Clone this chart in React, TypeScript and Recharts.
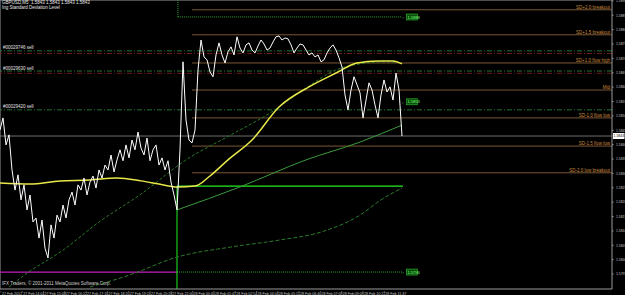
import React from "react";
import {
  ComposedChart,
  Line,
  XAxis,
  YAxis,
  ReferenceLine,
  ReferenceDot,
} from "recharts";

// M5 closes, one every 3rd bar slot (bar index = i)
const closes = [
  1.58451, 1.58493, 1.58399, 1.58434, 1.58312, 1.58242, 1.58295, 1.58208, 1.5826, 1.58173,
  1.58225, 1.58131, 1.58145, 1.58075, 1.58138, 1.5804, 1.58006, 1.58121, 1.58075, 1.58155,
  1.58131, 1.5819, 1.58145, 1.58208, 1.58235, 1.5819, 1.5826, 1.58242, 1.58284, 1.58225,
  1.5827, 1.58291, 1.58249, 1.58312, 1.58284, 1.58329, 1.58312, 1.58364, 1.58305, 1.58347,
  1.58382, 1.58344, 1.58399, 1.58354, 1.58416, 1.58382, 1.58444, 1.58388, 1.58364, 1.58423,
  1.58344, 1.58382, 1.58399, 1.58329, 1.58354, 1.58312, 1.58344, 1.5827, 1.58225, 1.58173,
  1.58382, 1.58688, 1.58486, 1.58416, 1.58406, 1.58451, 1.5866, 1.58764, 1.58705, 1.58695,
  1.58653, 1.58636, 1.58712, 1.58754, 1.58712, 1.58684, 1.58723, 1.5874, 1.58712, 1.58775,
  1.58736, 1.58719, 1.58747, 1.58754, 1.58729, 1.58719, 1.58743, 1.58764, 1.5875, 1.58729,
  1.58736, 1.58757, 1.58775, 1.58778, 1.58764, 1.58771, 1.58768, 1.58747, 1.58719, 1.58736,
  1.5875, 1.58747, 1.58729, 1.58712, 1.58719, 1.58705, 1.58712, 1.58688, 1.58695, 1.58719,
  1.58736, 1.58747, 1.58729, 1.58702, 1.5867, 1.58573, 1.58521, 1.5859, 1.58636, 1.58608,
  1.5858, 1.58493, 1.58555, 1.58615, 1.5859, 1.58538, 1.58493, 1.58573, 1.58625, 1.58583,
  1.58601, 1.58555, 1.58649, 1.5859, 1.5843,
];

// moving averages, sampled at a few bars
const yellowBars = [0, 10, 20, 30, 39, 47, 53, 59, 65, 70, 76, 84, 93, 103, 112, 119, 126, 131, 134];
const yellowMa = [
  1.58267, 1.58263, 1.58274, 1.58277, 1.58284, 1.58274, 1.58263, 1.58253, 1.58256, 1.58291,
  1.58347, 1.58416, 1.58531, 1.58601, 1.58649, 1.58684, 1.58691, 1.58691, 1.58681,
];

const slowBars = [3, 9, 21, 33, 47, 62, 77, 90, 102, 112, 120, 128, 134];
const slowMa = [
  1.57905, 1.57953, 1.58033, 1.58131, 1.58228, 1.58347, 1.58434, 1.5851, 1.58597, 1.5866,
  1.58681, 1.58688, 1.58684,
];

const greenBars = [59, 80, 102, 120, 134];
const greenMa = [1.58173, 1.58253, 1.58347, 1.58409, 1.58468];

const longBars = [30, 43, 59, 77, 93, 107, 120, 127, 134];
const longMa = [1.57905, 1.57946, 1.58009, 1.58044, 1.58068, 1.58096, 1.58155, 1.58208, 1.58249];

// deviation levels
const levelPrices = [1.58869, 1.58782, 1.58684, 1.5859, 1.58493, 1.58395, 1.58302];
const levelNames = [
  "SD+2.0 breakout",
  "SD+1.5 breakout",
  "SD+1.0 flow high",
  "Mid",
  "SD-1.0 flow low",
  "SD-1.5 flow low",
  "SD-2.0 low breakout",
];
const levelStart = 64;

const orderPrices = [1.58726, 1.58656, 1.58521];
const orderNames = ["#00029746 sell", "#00029630 sell", "#00029420 sell"];
const stopPrices = [1.58717, 1.58648];

const currentPrice = 1.5843;
const breakBar = 59;
const breakPrice = 1.58256;
const lowPrice = 1.57957;
const highPrice = 1.58844;
const boxBar = 135.5;
const boxPrices = [1.58844, 1.58549, 1.57957];
const boxNames = ["1.5888", "1.5853", "1.5796"];

const priceTicks = [
  1.5795, 1.58, 1.5805, 1.581, 1.5815, 1.582, 1.5825, 1.583, 1.5835, 1.584,
  1.5845, 1.585, 1.5855, 1.586, 1.5865, 1.587, 1.5875, 1.588, 1.5885, 1.589,
];
const timeTicks = [0.3, 7.4, 14.5, 21.6, 28.7, 35.8, 42.9, 50, 57.1, 64.2, 71.3, 78.4, 85.5, 92.6, 99.7, 106.8, 113.9, 121, 128.1];
const timeLabels = [
  "27 Feb 2012", "27 Feb 14:04", "27 Feb 15:08", "27 Feb 16:12", "27 Feb 17:16",
  "27 Feb 18:20", "27 Feb 19:24", "27 Feb 20:28", "27 Feb 22:00", "28 Feb 00:40",
  "28 Feb 01:47", "28 Feb 02:54", "28 Feb 04:04", "28 Feb 05:15", "28 Feb 06:40",
  "28 Feb 07:09", "28 Feb 09:09", "28 Feb 10:22", "28 Feb 11:37",
];

const pairs = (bars: number[], vals: number[]) => bars.map((i, k) => ({ i, v: vals[k] }));
const closeData = closes.map((v, k) => ({ i: k, v }));

const FONT = "'Liberation Sans', Arial, sans-serif";

const LevelLabel = (props: any) => {
  const { viewBox, text } = props;
  return (
    <text x={viewBox.x + viewBox.width - 2} y={viewBox.y - 1} textAnchor="end" fontSize={4.5} fill="#c8883a" fontFamily={FONT}>
      {text}
    </text>
  );
};

const OrderLabel = (props: any) => {
  const { viewBox, text } = props;
  return (
    <text x={viewBox.x + 3} y={viewBox.y - 1.5} fontSize={4.5} fill="#e0e0e0" fontFamily={FONT}>
      {text}
    </text>
  );
};

const PriceTag = (props: any) => {
  const { viewBox, text } = props;
  const x = viewBox.x + viewBox.width;
  return (
    <g>
      <rect x={x + 1} y={viewBox.y - 3} width={11.5} height={6} fill="#ffffff" />
      <text x={x + 1.5} y={viewBox.y + 1.4} fontSize={3.5} fill="#000" fontFamily={FONT}>
        {text}
      </text>
    </g>
  );
};

const GreenBox = (props: any) => {
  const { cx, cy, text } = props;
  return (
    <g>
      <text x={cx - 4} y={cy + 2} fontSize={4} fill="#3aa03a" fontFamily={FONT}>r</text>
      <rect x={cx} y={cy - 3} width={11} height={6} fill="#0b4d0b" stroke="#2fbf2f" strokeWidth={0.6} />
      <text x={cx + 1} y={cy + 1.6} fontSize={4} fill="#7fff7f" fontFamily={FONT}>
        {text}
      </text>
    </g>
  );
};

const PriceTick = (props: any) => {
  const { x, y, payload } = props;
  return (
    <text x={x + 0.5} y={y + 1.3} fontSize={3.4} fill="#c8c8c8" fontFamily={FONT}>
      {payload.value.toFixed(4)}
    </text>
  );
};

const TimeTick = (props: any) => {
  const { x, y, payload } = props;
  const k = timeTicks.indexOf(payload.value);
  return (
    <g>
      <line x1={x} x2={x} y1={y} y2={y + 1.5} stroke="#909090" strokeWidth={0.6} />
      <text x={x + 1} y={y + 4} fontSize={3.6} fill="#c8c8c8" fontFamily={FONT}>
        {timeLabels[k]}
      </text>
    </g>
  );
};

export default function App() {
  return (
    <div style={{ position: "fixed", left: 0, top: 0, width: 625, height: 295, background: "#000" }}>
      <ComposedChart width={625} height={295} margin={{ top: 0, right: 0, bottom: 0, left: 0 }}>
        <XAxis
          type="number"
          dataKey="i"
          domain={[0, 204]}
          ticks={timeTicks}
          tick={<TimeTick />}
          tickLine={false}
          tickSize={0}
          height={6}
          axisLine={{ stroke: "#9a9a9a" }}
          allowDataOverflow
          interval={0}
        />
        <YAxis
          orientation="right"
          domain={[1.57898, 1.58903]}
          ticks={priceTicks}
          tick={<PriceTick />}
          tickSize={1.5}
          tickLine={{ stroke: "#9a9a9a" }}
          width={13}
          axisLine={{ stroke: "#9a9a9a" }}
          allowDataOverflow
          interval={0}
        />

        <ReferenceLine x={0} stroke="#9a9a9a" />
        <ReferenceLine y={1.58903} stroke="#9a9a9a" />

        {orderPrices.map((p, k) => (
          <ReferenceLine
            key={"o" + k}
            y={p}
            stroke="#2f8f3f"
            strokeWidth={0.8}
            strokeDasharray="5 2 1 2"
            label={<OrderLabel text={orderNames[k]} />}
          />
        ))}
        {stopPrices.map((p, k) => (
          <ReferenceLine key={"s" + k} y={p} stroke="#8a1f1f" strokeWidth={0.8} strokeDasharray="5 2 1 2" />
        ))}

        {levelPrices.map((p, k) => (
          <ReferenceLine
            key={"l" + k}
            segment={[{ x: levelStart, y: p }, { x: 204, y: p }]}
            stroke="#7a5634"
            strokeWidth={1}
            label={<LevelLabel text={levelNames[k]} />}
          />
        ))}

        <ReferenceLine y={currentPrice} stroke="#8a8a8a" strokeWidth={0.8} label={<PriceTag text="1.5843" />} />

        <ReferenceLine segment={[{ x: 0, y: lowPrice }, { x: breakBar, y: lowPrice }]} stroke="#c020c0" strokeWidth={1.2} />
        <ReferenceLine segment={[{ x: breakBar, y: lowPrice }, { x: 134, y: lowPrice }]} stroke="#2f9f2f" strokeDasharray="1 1" />
        <ReferenceLine segment={[{ x: breakBar + 0.3, y: 1.58903 }, { x: breakBar + 0.3, y: highPrice }]} stroke="#2f9f2f" strokeDasharray="1 1" />
        <ReferenceLine segment={[{ x: breakBar + 0.3, y: highPrice }, { x: 134, y: highPrice }]} stroke="#2f9f2f" strokeDasharray="1 1" />
        <ReferenceLine segment={[{ x: breakBar, y: breakPrice }, { x: 134.3, y: breakPrice }]} stroke="#22ee22" strokeWidth={1.2} />
        <ReferenceLine segment={[{ x: breakBar, y: breakPrice }, { x: breakBar, y: 1.57898 }]} stroke="#22ee22" strokeWidth={1} />

        <Line data={pairs(longBars, longMa)} dataKey="v" type="monotone" stroke="#2a7a2a" strokeWidth={1} strokeDasharray="4 2" dot={false} activeDot={false} isAnimationActive={false} />
        <Line data={pairs(slowBars, slowMa)} dataKey="v" type="monotone" stroke="#2a7a2a" strokeWidth={1} strokeDasharray="3 2" dot={false} activeDot={false} isAnimationActive={false} />
        <Line data={pairs(greenBars, greenMa)} dataKey="v" type="monotone" stroke="#3a9a3a" strokeWidth={1} dot={false} activeDot={false} isAnimationActive={false} />
        <Line data={pairs(yellowBars, yellowMa)} dataKey="v" type="monotone" stroke="#e8e84a" strokeWidth={1.5} dot={false} activeDot={false} isAnimationActive={false} />
        <Line data={closeData} dataKey="v" type="linear" stroke="#ffffff" strokeWidth={1} dot={false} activeDot={false} isAnimationActive={false} />

        {boxPrices.map((p, k) => (
          <ReferenceDot key={"b" + k} x={boxBar} y={p} r={0} shape={<GreenBox text={boxNames[k]} />} />
        ))}
      </ComposedChart>

      <div style={{ position: "absolute", left: 2, top: 1, color: "#e8e8e8", fontFamily: FONT, fontSize: 4.5, lineHeight: "4.5px", whiteSpace: "nowrap" }}>
        <div>GBPUSD,M5&nbsp; 1.5843 1.5843 1.5843 1.5843</div>
        <div>Ing Standard Deviation Level</div>
      </div>
      <div style={{ position: "absolute", left: 2, top: 281, color: "#d0d0d0", fontFamily: FONT, fontSize: 4.5, whiteSpace: "nowrap" }}>
        IFX Traders, © 2001-2011 MetaQuotes Software Corp.
      </div>
    </div>
  );
}
